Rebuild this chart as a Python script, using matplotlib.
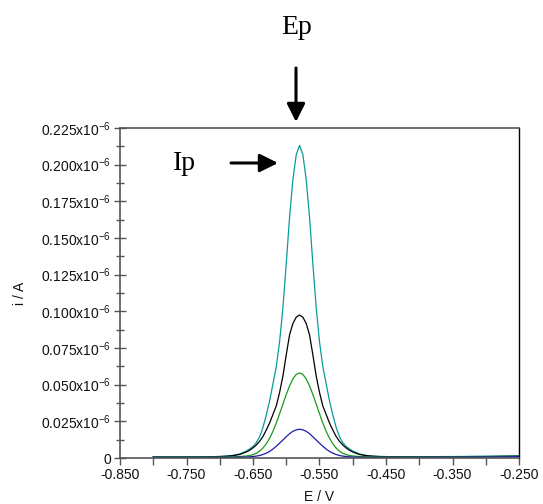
import matplotlib
matplotlib.use("Agg")
import matplotlib.pyplot as plt
from matplotlib.ticker import MultipleLocator, FixedLocator

# potential (V)
E = [-0.800, -0.750, -0.720,
     -0.700, -0.690, -0.680, -0.670, -0.660, -0.655, -0.650, -0.645, -0.640, -0.635,
     -0.630, -0.625, -0.620, -0.615, -0.610, -0.605, -0.600, -0.595, -0.590, -0.585,
     -0.580,
     -0.575, -0.570, -0.565, -0.560, -0.555, -0.550, -0.545, -0.540, -0.535, -0.530,
     -0.525, -0.520, -0.515, -0.510, -0.505, -0.500, -0.490, -0.480, -0.470, -0.460,
     -0.440, -0.400, -0.350, -0.300, -0.250]

# currents in units of 1e-6 A
i_cyan = [0.0008, 0.0008, 0.0009,
          0.0010, 0.0013, 0.0018, 0.0028, 0.0047, 0.0062, 0.0079, 0.0105, 0.0145, 0.0209,
          0.0294, 0.0390, 0.0506, 0.0623, 0.0793, 0.1027, 0.1325, 0.1643, 0.1898, 0.2068,
          0.2132,
          0.2068, 0.1898, 0.1643, 0.1325, 0.1027, 0.0793, 0.0623, 0.0506, 0.0390, 0.0294,
          0.0209, 0.0145, 0.0105, 0.0079, 0.0062, 0.0047, 0.0028, 0.0018, 0.0013, 0.0010,
          0.0009, 0.0009, 0.0010, 0.0012, 0.0015]
i_black = [0.0007, 0.0007, 0.0008,
           0.0010, 0.0012, 0.0016, 0.0024, 0.0041, 0.0053, 0.0069, 0.0089, 0.0114, 0.0147,
           0.0191, 0.0239, 0.0297, 0.0355, 0.0447, 0.0559, 0.0704, 0.0840, 0.0917, 0.0960,
           0.0975,
           0.0960, 0.0917, 0.0840, 0.0704, 0.0559, 0.0447, 0.0355, 0.0297, 0.0239, 0.0191,
           0.0147, 0.0114, 0.0089, 0.0069, 0.0053, 0.0041, 0.0024, 0.0016, 0.0012, 0.0010,
           0.0009, 0.0008, 0.0009, 0.0010, 0.0012]
i_green = [0.0007, 0.0007, 0.0007,
           0.0007, 0.0008, 0.0008, 0.0010, 0.0014, 0.0017, 0.0023, 0.0032, 0.0047, 0.0068,
           0.0097, 0.0135, 0.0182, 0.0238, 0.0302, 0.0368, 0.0433, 0.0492, 0.0539, 0.0570,
           0.0580,
           0.0570, 0.0539, 0.0492, 0.0433, 0.0368, 0.0302, 0.0238, 0.0182, 0.0135, 0.0097,
           0.0068, 0.0047, 0.0032, 0.0023, 0.0017, 0.0014, 0.0010, 0.0008, 0.0008, 0.0007,
           0.0007, 0.0007, 0.0008, 0.0009, 0.0011]
i_blue = [0.0005, 0.0005, 0.0005,
          0.0005, 0.0005, 0.0005, 0.0006, 0.0007, 0.0008, 0.0010, 0.0013, 0.0017, 0.0024,
          0.0033, 0.0045, 0.0061, 0.0080, 0.0101, 0.0123, 0.0145, 0.0166, 0.0182, 0.0192,
          0.0196,
          0.0192, 0.0182, 0.0166, 0.0145, 0.0123, 0.0101, 0.0080, 0.0061, 0.0045, 0.0033,
          0.0024, 0.0017, 0.0013, 0.0010, 0.0008, 0.0007, 0.0006, 0.0005, 0.0005, 0.0005,
          0.0005, 0.0005, 0.0006, 0.0007, 0.0009]

x_ticks = [-0.850, -0.750, -0.650, -0.550, -0.450, -0.350, -0.250]
x_minor = [-0.800, -0.700, -0.600, -0.500, -0.400, -0.300]
x_ticklabels = ["-0.850", "-0.750", "-0.650", "-0.550", "-0.450", "-0.350", "-0.250"]
y_ticks = [0, 0.025, 0.050, 0.075, 0.100, 0.125, 0.150, 0.175, 0.200, 0.225]
y_ticklabels = ["0"] + ["%.3fx10$^{-6}$" % v for v in y_ticks[1:]]

plt.rcParams['font.family'] = ['Liberation Sans', 'DejaVu Sans']
plt.rcParams['mathtext.fontset'] = 'custom'
plt.rcParams['mathtext.rm'] = 'Liberation Sans'
plt.rcParams['mathtext.it'] = 'Liberation Sans:italic'
plt.rcParams['mathtext.bf'] = 'Liberation Sans:bold'

W, H = 543, 504
fig = plt.figure(figsize=(W / 100, H / 100), dpi=100)
ax = fig.add_axes([120 / W, 1 - 458 / H, (519 - 120) / W, (458 - 128) / H])

lw = 0.9
ax.plot(E, i_cyan, color="#0a9a9a", lw=lw)
ax.plot(E, i_black, color="black", lw=lw)
ax.plot(E, i_green, color="#1a9a1a", lw=lw)
ax.plot(E, i_blue, color="#1c1caa", lw=lw)

ax.set_xlim(-0.850, -0.250)
ax.set_ylim(0, 0.225)

ax.xaxis.set_major_locator(FixedLocator(x_ticks))
ax.set_xticklabels(x_ticklabels)
ax.set_xticks(x_minor, minor=True)
ax.yaxis.set_major_locator(FixedLocator(y_ticks))
ax.set_yticklabels(y_ticklabels)
ax.yaxis.set_minor_locator(MultipleLocator(0.0125))

spine_col = "#555555"
for s in ["left", "bottom", "top"]:
    ax.spines[s].set_color(spine_col)
    ax.spines[s].set_linewidth(1.2)
ax.spines["right"].set_color("black")
ax.spines["right"].set_linewidth(1.0)

ax.tick_params(axis="x", which="both", direction="out", length=5, width=1, color=spine_col,
               labelsize=10, pad=2, labelcolor="#111111")
ax.tick_params(axis="y", which="major", direction="inout", length=9, width=1, color=spine_col,
               labelsize=10, pad=2, labelcolor="#111111")
ax.tick_params(axis="y", which="minor", direction="inout", length=6, width=1, color=spine_col)

ax.set_xlabel("E / V", fontsize=10, labelpad=6, color="#111111")
ax.set_ylabel("i / A", fontsize=10, labelpad=10, color="#111111")

serif = ['Liberation Serif', 'DejaVu Serif']
fig.text(297 / W, 1 - 28 / H, "Ep", family=serif, fontsize=20, ha="center", va="center")
fig.text(185 / W, 1 - 164 / H, "Ip", family=serif, fontsize=20, ha="center", va="center")

arrow_kw = dict(arrowstyle="-|>,head_length=1.1,head_width=0.55", color="black", lw=2.2,
                shrinkA=0, shrinkB=0, mutation_scale=10)
ax.annotate("", xy=(296, H - 122), xytext=(296, H - 68), xycoords="figure pixels",
            textcoords="figure pixels", arrowprops=arrow_kw, annotation_clip=False)
ax.annotate("", xy=(278, H - 163), xytext=(231, H - 163), xycoords="figure pixels",
            textcoords="figure pixels", arrowprops=arrow_kw, annotation_clip=False)

fig.savefig("out.png", dpi=100)
